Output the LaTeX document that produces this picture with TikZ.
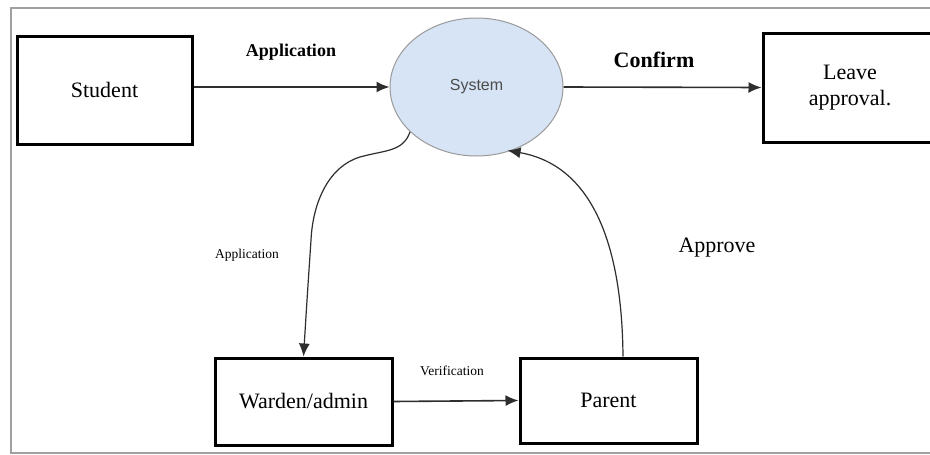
\documentclass[tikz,border=0pt]{standalone}
\usepackage{fontspec}
\setmainfont{Liberation Serif}
\newfontfamily\sysfont{Liberation Sans}
\usetikzlibrary{arrows.meta,shapes.geometric}
\definecolor{sysblue}{HTML}{D6E4F5}
\definecolor{sysedge}{HTML}{9A9A9A}
\definecolor{lineg}{HTML}{2E2E2E}
\definecolor{frameg}{HTML}{A0A0A0}
\tikzset{
  entity/.style={draw=black,line width=3pt,rectangle,font=\fontsize{22}{25}\selectfont,align=center,inner sep=0pt},
  procbub/.style={ellipse,draw=sysedge,line width=1pt,fill=sysblue,inner sep=0pt,
     minimum width=173pt,minimum height=138pt,font=\sysfont\fontsize{16}{18}\selectfont,text=black!70},
  flow/.style={draw=lineg,line width=1.6pt,-{Latex[length=13pt,width=11pt]}},
  cflow/.style={draw=lineg,line width=1.2pt,-{Latex[length=13pt,width=11pt]}},
  biglab/.style={font=\bfseries\fontsize{18}{20}\selectfont,inner sep=0pt},
  conflab/.style={font=\bfseries\fontsize{22}{24}\selectfont,inner sep=0pt},
  smalllab/.style={font=\fontsize{13.5}{15}\selectfont,inner sep=0pt},
  applab/.style={font=\fontsize{22}{24}\selectfont,inner sep=0pt}
}
\begin{document}
\begin{tikzpicture}[x=1pt,y=-1pt]
\useasboundingbox (0,0) rectangle (930,455);
\clip (0,0) rectangle (930,455);
\fill[white] (0,0) rectangle (930,455);
\draw[frameg,line width=1.2pt] (11,8) rectangle (945,453);

\node[entity,minimum width=175pt,minimum height=108pt] (student) at (104.5,90) {Student};
\node[entity,minimum width=174pt,minimum height=109pt] (leave) at (850,87.5) {Leave\\[1pt]approval.};
\node[entity,minimum width=177pt,minimum height=87pt] (warden) at (303.5,401.5) {Warden/admin};
\node[entity,minimum width=177pt,minimum height=85pt] (parent) at (608.5,400.5) {Parent};
\node[procbub] (system) at (476.5,87) {System};

\node[biglab] (lapp) at (291,52) {Application};
\node[conflab] (lconf) at (654,60) {Confirm};
\node[smalllab] (lapp2) at (247,255) {Application};
\node[smalllab] (lver) at (452,371) {Verification};
\node[applab] (lappr) at (717,248) {Approve};

\draw[flow] ([yshift=3pt]student.east) -- (system.west);
\draw[flow] (system.east) -- (leave.west);
\draw[flow] (warden.east) -- (parent.west);

\coordinate (ap1) at (360,157);
\coordinate (ap2) at (311,240);
\draw[cflow] (system.214) .. controls (403,152) and (385,150) .. (ap1)
   .. controls (330,166) and (313,200) .. (ap2)
   .. controls (307,300) .. (warden.north);

\draw[cflow,shorten >=-3pt] ([xshift=14.5pt]parent.north) .. controls (622,240) and (590,165) .. (system.298);
\end{tikzpicture}
\end{document}
